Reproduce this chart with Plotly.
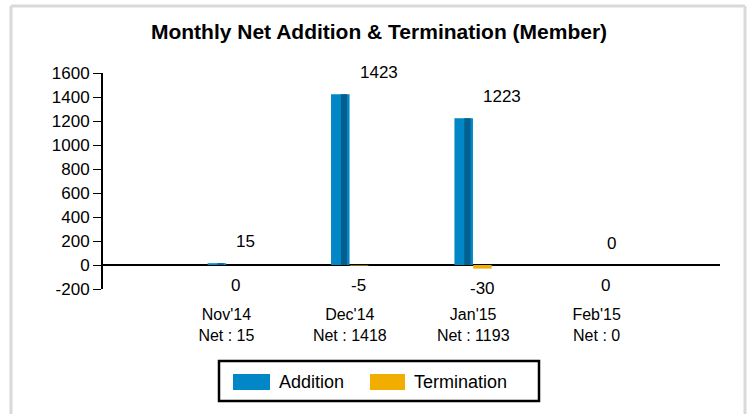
import plotly.graph_objects as go

# ---- data ----
months = ["Nov'14", "Dec'14", "Jan'15", "Feb'15"]
addition = [15, 1423, 1223, 0]
termination = [0, -5, -30, 0]
net = [a + t for a, t in zip(addition, termination)]
y_ticks = [-200, 0, 200, 400, 600, 800, 1000, 1200, 1400, 1600]

# ---- geometry helpers (screen pixels -> paper) ----
W, H = 751, 414
PL, PR, PT, PB = 103, 720, 73, 289   # plot area in pixels
def px(x):
    return (x - PL) / (PR - PL)
def py(y):
    return (PB - y) / (PB - PT)

FONT = "Liberation Sans, Arial, sans-serif"
BLUE = "#0287C6"
BLUE_DARK = "#035F8E"
YELLOW = "#F2AE00"

fig = go.Figure()
fig.add_trace(go.Bar(x=months, y=addition, width=0.15, offset=-0.152,
                     marker=dict(color=BLUE, line=dict(width=0)),
                     showlegend=False, hoverinfo="skip"))
fig.add_trace(go.Bar(x=months, y=addition, width=0.05, offset=-0.072,
                     marker=dict(color=BLUE_DARK, line=dict(width=0)),
                     showlegend=False, hoverinfo="skip"))
fig.add_trace(go.Bar(x=months, y=termination, width=0.15, offset=0.0,
                     marker=dict(color=YELLOW, line=dict(width=0)),
                     showlegend=False, hoverinfo="skip"))

annotations = []
for m, a in zip(months, addition):
    annotations.append(dict(x=m, y=a, xref="x", yref="y", text=str(a),
                            showarrow=False, xanchor="left", yanchor="middle",
                            xshift=8, yshift=22,
                            font=dict(family=FONT, size=17, color="#000")))
for m, t in zip(months, termination):
    annotations.append(dict(x=m, y=t, xref="x", yref="y", text=str(t),
                            showarrow=False, xanchor="center", yanchor="middle",
                            xshift=9, yshift=-20,
                            font=dict(family=FONT, size=17, color="#000")))

# custom legend
annotations.append(dict(x=px(277), y=py(382), xref="paper", yref="paper",
                        text="Addition", showarrow=False, xanchor="left", yanchor="middle",
                        font=dict(family=FONT, size=18, color="#000")))
annotations.append(dict(x=px(412), y=py(382), xref="paper", yref="paper",
                        text="Termination", showarrow=False, xanchor="left", yanchor="middle",
                        font=dict(family=FONT, size=18, color="#000")))

shapes = [
    # outer frame
    dict(type="line", xref="paper", yref="paper", x0=px(11), x1=px(11), y0=py(420), y1=py(6),
         line=dict(color="#D9D9D9", width=3)),
    dict(type="line", xref="paper", yref="paper", x0=px(11), x1=px(745), y0=py(6), y1=py(6),
         line=dict(color="#D9D9D9", width=3)),
    dict(type="line", xref="paper", yref="paper", x0=px(745), x1=px(745), y0=py(6), y1=py(420),
         line=dict(color="#D9D9D9", width=3)),
    # legend box
    dict(type="rect", xref="paper", yref="paper", x0=px(219), x1=px(539), y0=py(361), y1=py(401),
         line=dict(color="#000", width=2.5), fillcolor="rgba(0,0,0,0)"),
    dict(type="rect", xref="paper", yref="paper", x0=px(233), x1=px(270), y0=py(374), y1=py(390),
         line=dict(width=0), fillcolor=BLUE),
    dict(type="rect", xref="paper", yref="paper", x0=px(370), x1=px(405), y0=py(374), y1=py(390),
         line=dict(width=0), fillcolor=YELLOW),
]

fig.update_layout(
    width=W, height=H,
    margin=dict(l=PL, r=W - PR, t=PT, b=H - PB),
    paper_bgcolor="white", plot_bgcolor="white",
    title=dict(text="<b>Monthly Net Addition & Termination (Member)</b>",
               x=379 / W, xanchor="center", y=1 - 32 / H, yanchor="middle",
               font=dict(family=FONT, size=21, color="#000")),
    font=dict(family=FONT, color="#000"),
    barmode="overlay",
    showlegend=False,
    hovermode=False,
    xaxis=dict(type="category", categoryorder="array", categoryarray=months,
               range=[-1, 4], showline=False, showgrid=False, zeroline=False,
               ticks="", tickvals=months,
               ticktext=[f"{m}<br>Net : {n}" for m, n in zip(months, net)],
               tickfont=dict(family=FONT, size=16, color="#000"),
               ticklabelstandoff=14, fixedrange=True),
    xaxis2=dict(overlaying="x", anchor="free", position=200 / 1800, type="linear",
                range=[-1, 4], tickvals=[0, 1, 2, 3, 4], showticklabels=False,
                ticks="outside", ticklen=4, tickwidth=1, tickcolor="#333",
                showline=False, showgrid=False, zeroline=False),
    yaxis=dict(range=[-200, 1600], tickvals=y_ticks, ticktext=[str(v) for v in y_ticks],
               showgrid=False, fixedrange=True,
               showline=True, linecolor="#000", linewidth=2,
               ticks="outside", ticklen=8, tickwidth=1, tickcolor="#000",
               zeroline=True, zerolinecolor="#000", zerolinewidth=2,
               tickfont=dict(family=FONT, size=17, color="#000")),
    annotations=annotations, shapes=shapes,
)

fig.write_html(
    "out.html",
    config={"displayModeBar": False, "staticPlot": True},
    post_script="document.body.style.margin='0';document.body.style.overflow='hidden';",
)
